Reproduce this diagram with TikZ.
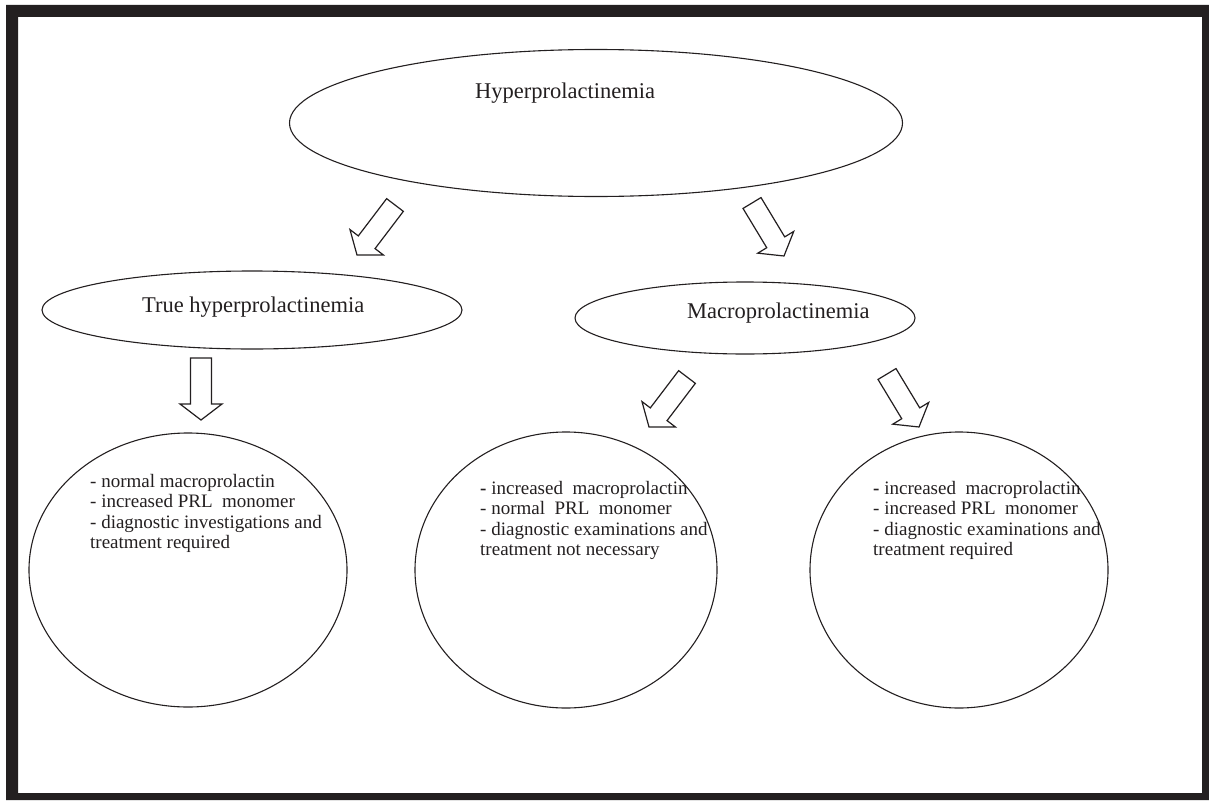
\documentclass[tikz,border=0pt]{standalone}
\usepackage{fontspec}
\setmainfont{Liberation Serif}
\usetikzlibrary{shapes.geometric,calc}
\definecolor{ink}{HTML}{231F20}

\tikzset{
  oval/.style={draw=ink, ellipse, line width=1.1pt, inner sep=0pt},
  title/.style={font=\fontsize{22.5}{27}\selectfont, text=ink, anchor=base west, inner sep=0pt},
  note/.style={font=\fontsize{19}{20.4}\selectfont, text=ink, align=left, anchor=north west, inner sep=0pt},
  blockarr/.style={draw=ink, line width=1.2pt, fill=white, line join=miter}
}

% hollow block arrow: name, tail middle, tip
\newcommand{\blockarrow}[3]{%
  \coordinate (#1-tail) at #2;
  \coordinate (#1-tip) at #3;
  \coordinate (#1-base) at ($(#1-tip)!16pt!(#1-tail)$);
  \draw[blockarr] ($(#1-tail)!10.5pt!90:(#1-tip)$)
    -- ($(#1-base)!10.5pt!90:(#1-tip)$) -- ($(#1-base)!21pt!90:(#1-tip)$)
    -- (#1-tip)
    -- ($(#1-base)!21pt!-90:(#1-tip)$) -- ($(#1-base)!10.5pt!-90:(#1-tip)$)
    -- ($(#1-tail)!10.5pt!-90:(#1-tip)$) -- cycle;
}

\begin{document}
\begin{tikzpicture}[x=1pt, y=-1pt]
\useasboundingbox (0,0) rectangle (1209,800);
% frame
\fill[ink, even odd rule] (6,5) rectangle (1209,800) (18,17) rectangle (1202,793);

% top level
\node[oval, minimum width=613pt, minimum height=147pt] (hyper) at (596,123) {};
\node[title] (hyperlbl) at (475,98) {Hyperprolactinemia};

% second level
\node[oval, minimum width=420pt, minimum height=78pt] (truehyp) at (252,310) {};
\node[title] (truelbl) at (142,312) {True hyperprolactinemia};
\node[oval, minimum width=340pt, minimum height=72pt] (macro) at (745,318) {};
\node[title] (macrolbl) at (687,318) {Macroprolactinemia};

% third level
\node[oval, minimum width=318pt, minimum height=274pt] (trueout) at (188,570) {};
\node[note] (truetxt) at (90,474) {- normal macroprolactin\\- increased PRL~ monomer\\- diagnostic investigations and\\treatment required};
\node[oval, minimum width=302pt, minimum height=276pt] (macroneg) at (566,570) {};
\node[note] (negtxt) at (480,481) {{\bfseries -} increased~ macroprolactin\\- normal~ PRL~ monomer\\- diagnostic examinations and\\treatment not necessary};
\node[oval, minimum width=298pt, minimum height=276pt] (macropos) at (959,570) {};
\node[note] (postxt) at (873,481) {{\bfseries -} increased~ macroprolactin\\- increased PRL~ monomer\\- diagnostic examinations and\\treatment required};

% arrows
\blockarrow{ar1}{(395,205)}{(357,255)}
\blockarrow{ar2}{(752,203)}{(784,256)}
\blockarrow{ar3}{(201,358)}{(201,420)}
\blockarrow{ar4}{(687,377)}{(649,427)}
\blockarrow{ar5}{(887,374)}{(919,427)}
\end{tikzpicture}
\end{document}
